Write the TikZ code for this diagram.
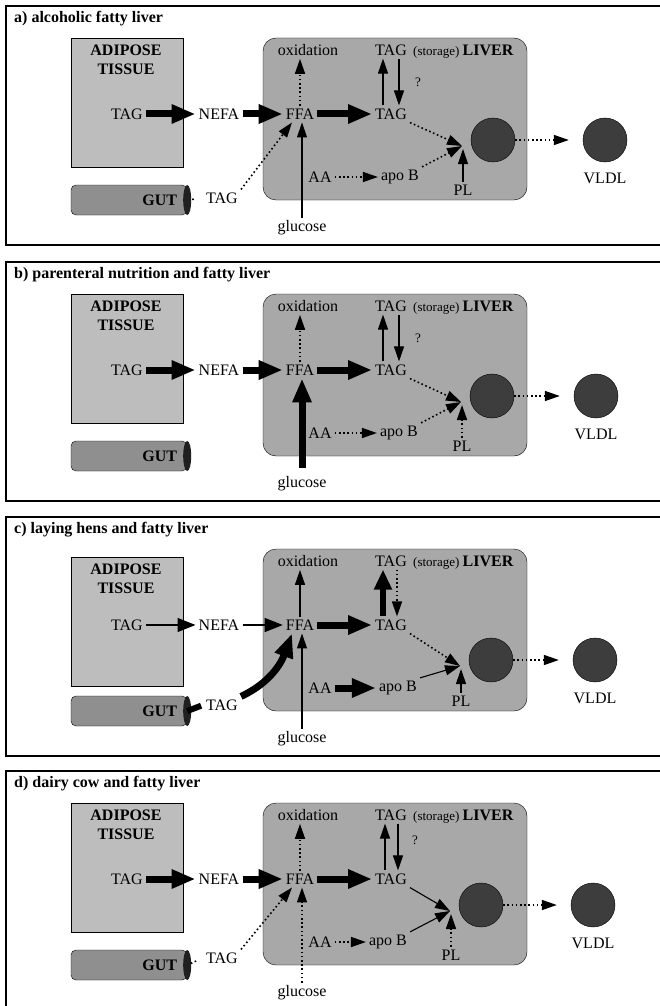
\documentclass[tikz,border=0pt]{standalone}
\usepackage{fontspec}
\setmainfont{Liberation Serif}
\usetikzlibrary{arrows.meta}
\definecolor{adipeux}{gray}{0.74}
\definecolor{foie}{gray}{0.66}
\definecolor{intestin}{gray}{0.56}
\definecolor{particule}{gray}{0.24}
\tikzset{
	fleche/.style={-{Triangle[length=15pt,width=10pt]},line width=1.1pt},
	pointille/.style={-{Triangle[length=15pt,width=10pt]},line width=1.6pt,dash pattern=on 1.6pt off 2.6pt},
	grosse/.style={-{Triangle[length=24pt,width=18pt]},line width=7pt},
	fine/.style={-{Triangle[length=18pt,width=14pt]},line width=1.2pt},
	gras/.style={font=\fontsize{16}{19}\selectfont\bfseries},
	petit/.style={font=\fontsize{13}{14}\selectfont},
	boule/.style={circle,draw,fill=particule,minimum size=44pt}
}
\begin{document}
\begin{tikzpicture}[x=1pt,y=-1pt,every node/.style={font=\fontsize{16}{19}\selectfont,inner sep=3pt}]
	\useasboundingbox (0,0) rectangle (660,1006);
	\foreach \p/\dy/\da/\dc/\xp/\xv/\titre in {A/0/0/0/493/605/{a) alcoholic fatty liver},B/256/0/0/492/596/{b) parenteral nutrition and fatty liver},C/511/8/9/491/595/{c) laying hens and fatty liver},D/765/0/0/481/593/{d) dairy cow and fatty liver}}{
		\begin{scope}[shift={(0,\dy)}]
		\draw[line width=1.2pt] (6,6) rectangle (664,245);
		\node[gras,anchor=west] (titre\p) at (11,19) {\titre};
		% tissu adipeux et foie
		\node[draw,fill=adipeux,minimum width=112pt,minimum height=129pt] (tis\p) at (127,{102.5+\da}) {};
		\node[gras,align=center] (ltis\p) at (126,{60+\da}) {ADIPOSE\\TISSUE};
		\node[draw,fill=foie,rounded corners=13pt,minimum width=264pt,minimum height=162pt] (foie\p) at (395,119) {};
		\node (tga\p) at (127,114) {TAG};
		\node (nefa\p) at (219,114) {NEFA};
		\node (ffa\p) at (300,114) {FFA};
		\node (oxy\p) at (308,50) {oxidation};
		\node (tgf\p) at (391,114) {TAG};
		\node (tgs\p) at (391,50) {TAG};
		\node[petit,anchor=base west,inner sep=1pt] (sto\p) at ([xshift=2pt]tgs\p.base east) {(storage)};
		\node[gras] (liv\p) at (488,50) {LIVER};
		\node (aa\p) at (320,177) {AA};
		\node (apob\p) at ({\xp-93},177) {apo B};
		\node (pl\p) at ({\xp-30},190) {PL};
		% particules
		\node[boule] (vfoie\p) at (\xp,{140+\dc}) {};
		\node[boule] (vldl\p) at (\xv,{140+\dc}) {};
		\node (lvldl\p) at (\xv,{178+\dc}) {VLDL};
		\coordinate (cv\p) at ({\xp-31},{146+\dc});
		% intestin
		\node[draw,fill=intestin,rounded corners=5pt,minimum width=116pt,minimum height=30pt] (gut\p) at (129,200) {};
		\fill[gray!25!black] (gut\p.east) ellipse (4 and 15);
		\node[gras,anchor=east] (lgut\p) at ([xshift=-7pt]gut\p.east) {GUT};
		\node (glu\p) at (302,228) {glucose};
		\end{scope}
	}
	
	% a) alcoholic fatty liver
	\node (tgiA) at (222,198) {TAG};
	\node[petit] (qA) at (418,82) {?};
	\draw[grosse] (tgaA) -- (nefaA);
	\draw[grosse] (nefaA) -- (ffaA);
	\draw[pointille] (ffaA.north) -- (ffaA.north |- oxyA.south);
	\draw[grosse] (ffaA) -- (tgfA);
	\draw[fleche] ([xshift=-8pt]tgfA.north) -- ([xshift=-8pt]tgsA.south);
	\draw[fleche] ([xshift=8pt]tgsA.south) -- ([xshift=8pt]tgfA.north);
	\draw[pointille] (tgfA.south east) -- (cvA);
	\draw[pointille] (aaA) -- (apobA);
	\draw[pointille] (apobA.north east) -- (cvA);
	\draw[fleche,shorten >=3pt] (plA.north) -- (plA.north |- cvA);
	\draw[pointille,shorten >=14pt] (vfoieA) -- (vldlA);
	\draw[pointille,-,shorten <=5pt,shorten >=8pt] (gutA.east) -- (tgiA.west);
	\draw[pointille] (tgiA.north east) -- ([xshift=-8pt]ffaA.south);
	\draw[fleche] (gluA.north) -- (gluA.north |- ffaA.south);
	
	% b) parenteral nutrition
	\node[petit] (qB) at (418,338) {?};
	\draw[grosse] (tgaB) -- (nefaB);
	\draw[grosse] (nefaB) -- (ffaB);
	\draw[pointille] (ffaB.north) -- (ffaB.north |- oxyB.south);
	\draw[grosse] (ffaB) -- (tgfB);
	\draw[fleche] ([xshift=-8pt]tgfB.north) -- ([xshift=-8pt]tgsB.south);
	\draw[fleche] ([xshift=8pt]tgsB.south) -- ([xshift=8pt]tgfB.north);
	\draw[pointille] (tgfB.south east) -- (cvB);
	\draw[pointille] (aaB) -- (apobB);
	\draw[pointille] (apobB.north east) -- (cvB);
	\draw[pointille,shorten >=3pt] (plB.north) -- (plB.north |- cvB);
	\draw[pointille,shorten >=14pt] (vfoieB) -- (vldlB);
	\draw[grosse,shorten <=6pt] (gluB.north) -- (gluB.north |- ffaB.south);
	
	% c) laying hens
	\node (tgiC) at (222,705) {TAG};
	\draw[fine] (tgaC) -- (nefaC);
	\draw[fine] (nefaC) -- (ffaC);
	\draw[fleche] (ffaC.north) -- (ffaC.north |- oxyC.south);
	\draw[grosse] (ffaC) -- (tgfC);
	\draw[grosse,-{Triangle[length=20pt,width=17pt]},line width=6pt] ([xshift=-8pt]tgfC.north) -- ([xshift=-8pt]tgsC.south);
	\draw[pointille] ([xshift=6pt]tgsC.south) -- ([xshift=6pt]tgfC.north);
	\draw[pointille] (tgfC.south east) -- (cvC);
	\draw[grosse] (aaC) -- (apobC);
	\draw[fleche] (apobC.north east) -- (cvC);
	\draw[fleche,shorten >=3pt] (plC.north) -- (plC.north |- cvC);
	\draw[pointille,shorten >=14pt] (vfoieC) -- (vldlC);
	\draw[line width=6pt,shorten >=2pt] (gutC.east) -- (tgiC.west);
	\draw[grosse] (tgiC.north east) to[out=25,in=250] ([xshift=-8pt]ffaC.south);
	\draw[fleche] (gluC.north) -- (gluC.north |- ffaC.south);
	
	% d) dairy cow
	\node (tgiD) at (222,958) {TAG};
	\node[petit] (qD) at (415,840) {?};
	\draw[grosse] (tgaD) -- (nefaD);
	\draw[grosse] (nefaD) -- (ffaD);
	\draw[pointille] (ffaD.north) -- (ffaD.north |- oxyD.south);
	\draw[grosse] (ffaD) -- (tgfD);
	\draw[fleche] ([xshift=-6pt]tgfD.north) -- ([xshift=-6pt]tgsD.south);
	\draw[fleche] ([xshift=7pt]tgsD.south) -- ([xshift=7pt]tgfD.north);
	\draw[fleche] (tgfD.south east) -- (cvD);
	\draw[pointille] (aaD) -- (apobD);
	\draw[fleche] (apobD.north east) -- (cvD);
	\draw[pointille,shorten >=3pt] (plD.north) -- (plD.north |- cvD);
	\draw[pointille,shorten >=14pt] (vfoieD) -- (vldlD);
	\draw[pointille,-,shorten <=4pt,shorten >=6pt] (gutD.east) -- (tgiD.west);
	\draw[pointille] (tgiD.north east) -- ([xshift=-8pt]ffaD.south);
	\draw[pointille] (gluD.north) -- (gluD.north |- ffaD.south);
\end{tikzpicture}
\end{document}
